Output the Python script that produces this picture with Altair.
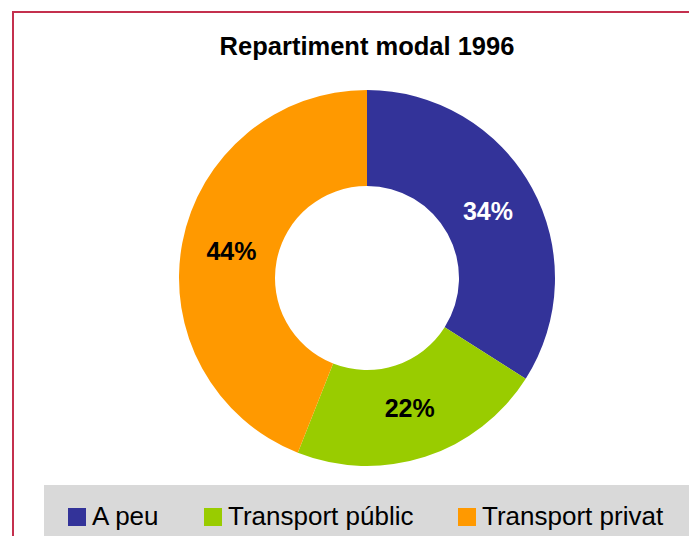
import altair as alt
import pandas as pd

categories = ["A peu", "Transport públic", "Transport privat"]
values = [34, 22, 44]
labels = ["34%", "22%", "44%"]
colors = ["#333399", "#99CC00", "#FF9900"]
label_colors = ["white", "black", "black"]
title_text = "Repartiment modal 1996"

FONT = "Liberation Sans"
W, H = 681, 528
CX, CY = 359, 270

df = pd.DataFrame({
    "category": categories,
    "value": values,
    "label": labels,
    "lcolor": label_colors,
    "idx": list(range(len(categories))),
})
one = pd.DataFrame({"a": [0]})

border = alt.Chart(one).mark_rect(
    fill=None, stroke="#C4304E", strokeWidth=2, clip=True
).encode(x=alt.value(5), y=alt.value(4), x2=alt.value(W + 20), y2=alt.value(H + 20))

legend_bg = alt.Chart(one).mark_rect(fill="#D9D9D9", clip=True).encode(
    x=alt.value(36), y=alt.value(477), x2=alt.value(W), y2=alt.value(H + 10)
)

base = alt.Chart(df).encode(
    theta=alt.Theta("value:Q", stack=True),
    order=alt.Order("idx:Q"),
)

arcs = base.mark_arc(radius=188, radius2=92).encode(
    x=alt.value(CX),
    y=alt.value(CY),
    color=alt.Color(
        "category:N",
        scale=alt.Scale(domain=categories, range=colors),
        sort=categories,
        legend=alt.Legend(
            title=None,
            orient="none",
            legendX=56,
            legendY=496,
            direction="horizontal",
            symbolType="square",
            symbolSize=324,
            symbolStrokeWidth=0,
            labelFontSize=26,
            labelFont=FONT,
            labelColor="black",
            labelOffset=2,
            labelLimit=400,
            columnPadding=40,
        ),
    ),
)

texts = base.mark_text(
    radius=138, font=FONT, fontSize=25, fontWeight="bold", baseline="middle", align="center"
).encode(
    x=alt.value(CX),
    y=alt.value(CY),
    text="label:N",
    color=alt.Color("lcolor:N", scale=None),
)

title = alt.Chart(pd.DataFrame({"t": [title_text]})).mark_text(
    font=FONT, fontSize=25.5, fontWeight="bold", baseline="alphabetic", align="center", color="black"
).encode(x=alt.value(CX), y=alt.value(47), text="t:N")

chart = alt.layer(legend_bg, arcs, texts, title, border).properties(
    width=W, height=H, padding=0, autosize=alt.AutoSizeParams(type="none"), background="white"
).configure_view(stroke=None)

chart.save("out.html", embed_options={"renderer": "svg", "actions": False})
